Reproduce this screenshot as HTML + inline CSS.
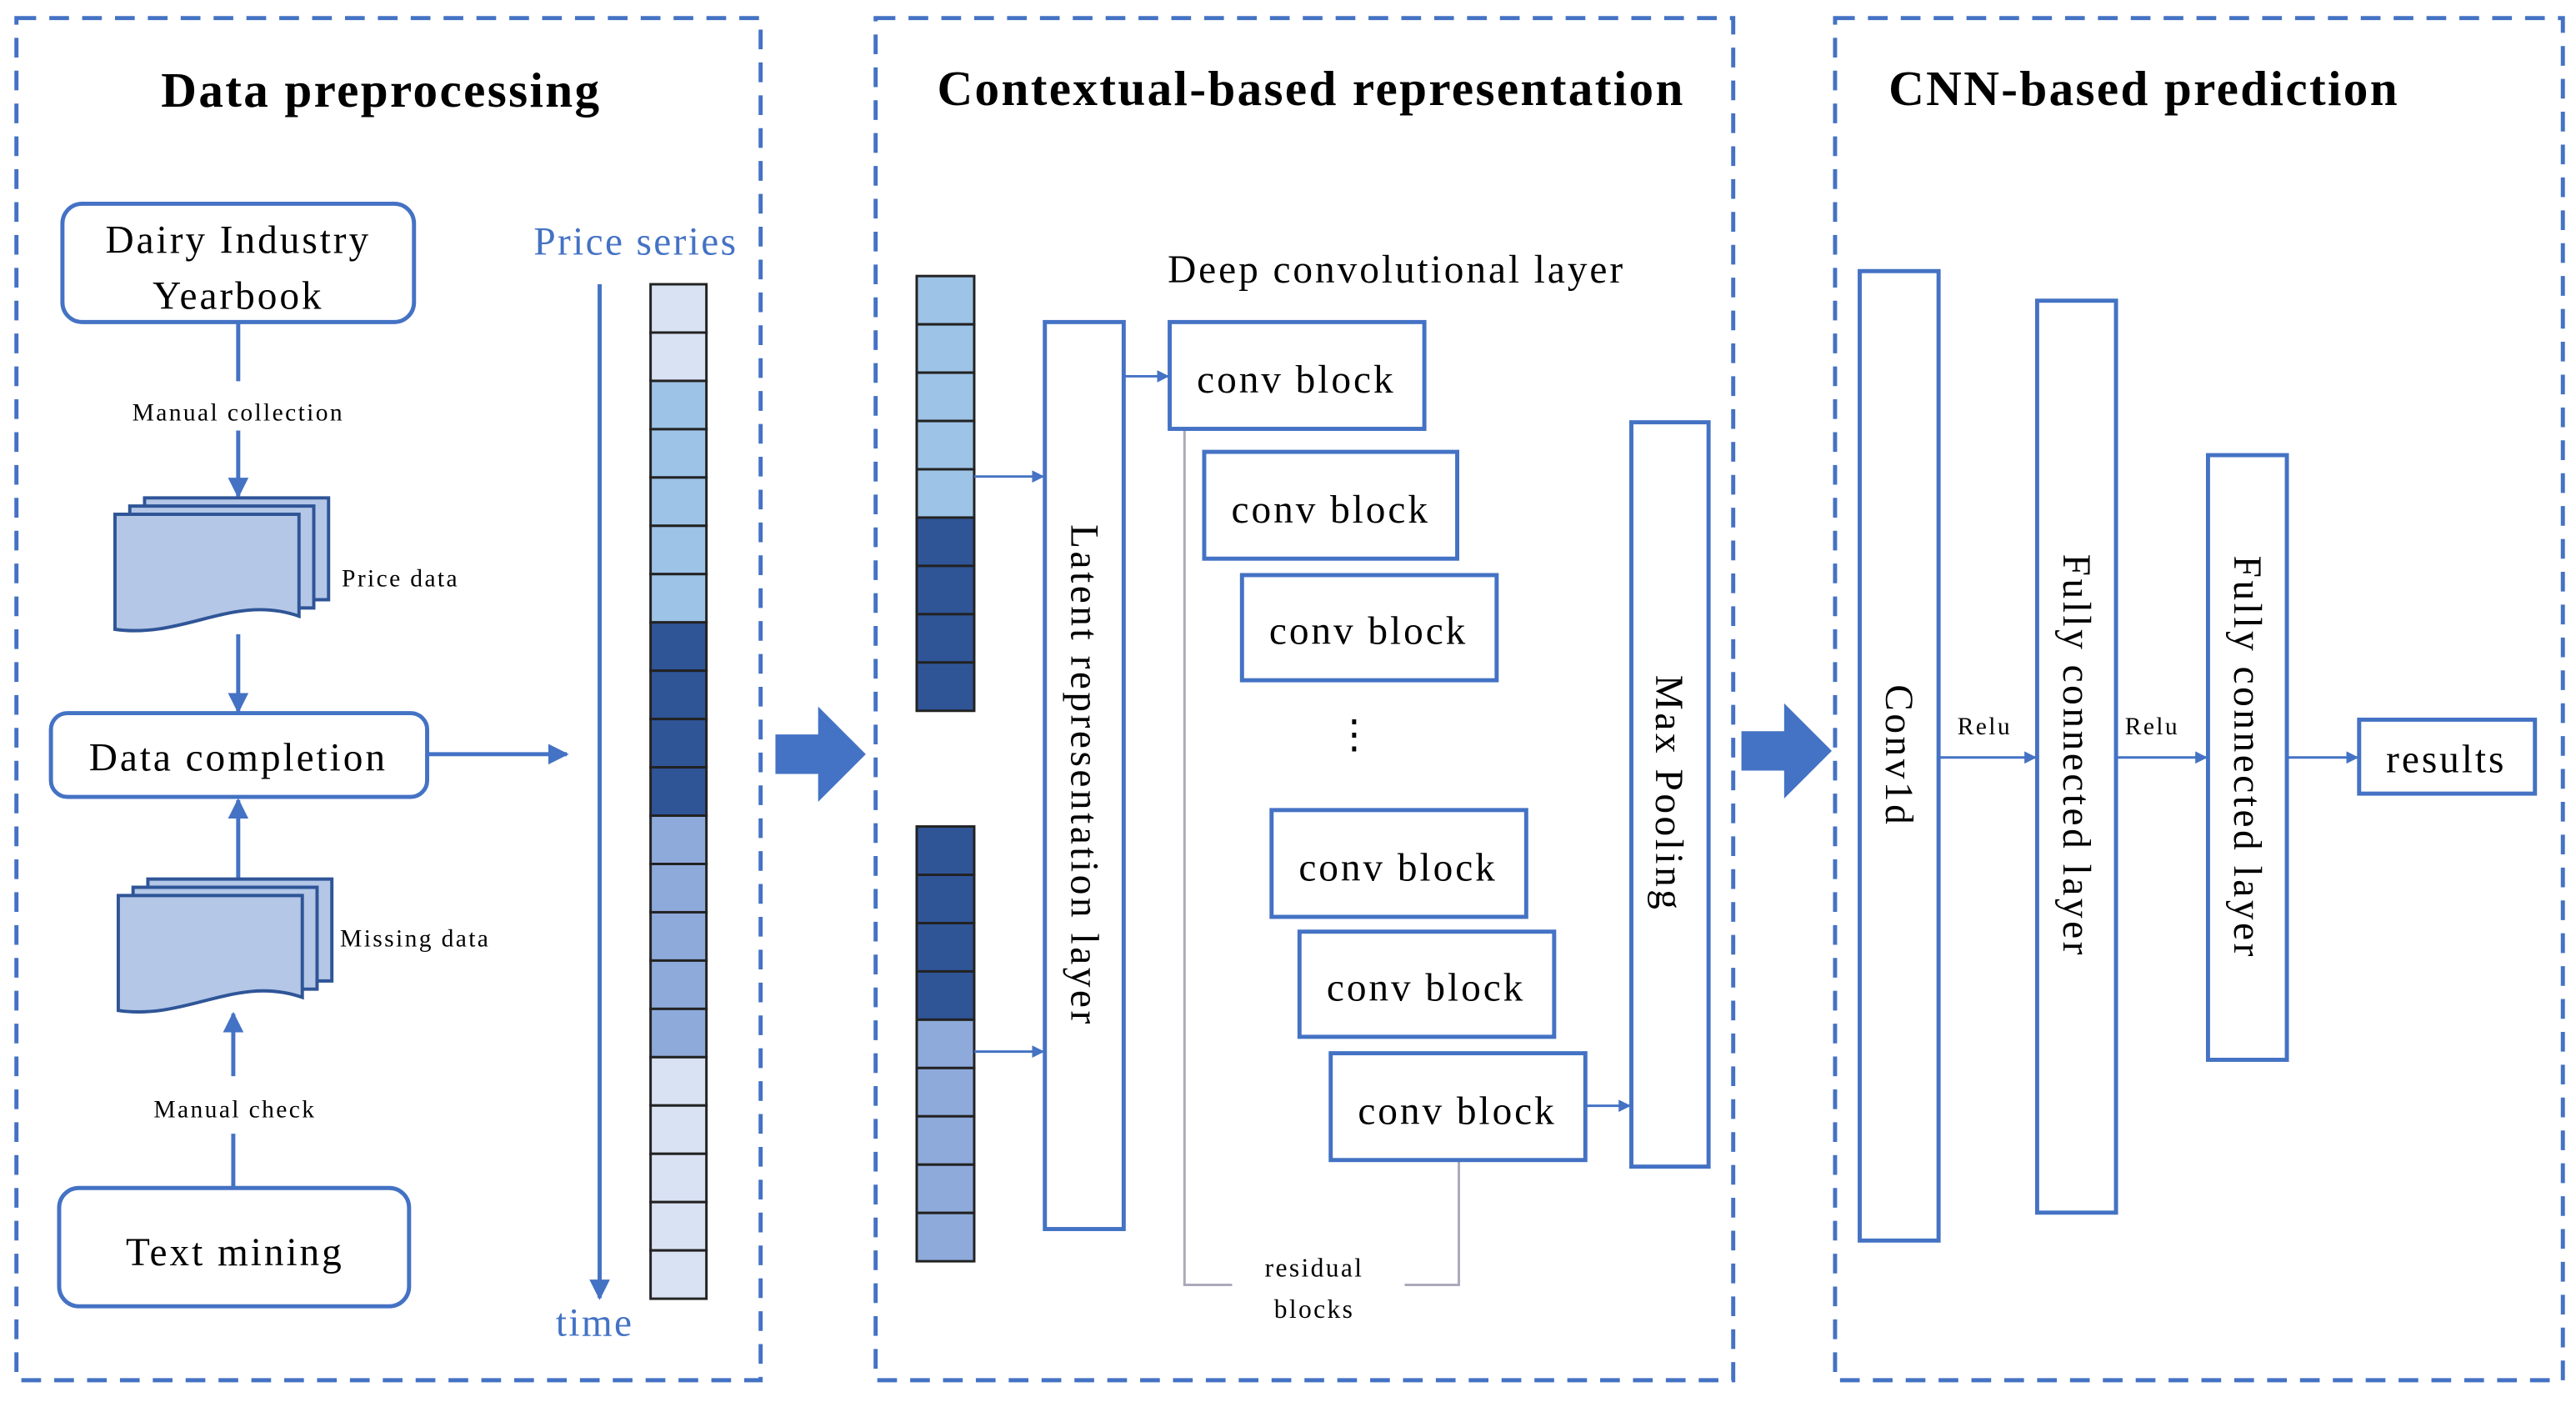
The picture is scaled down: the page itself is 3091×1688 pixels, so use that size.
<!DOCTYPE html>
<html><head><meta charset="utf-8"><style>html,body{margin:0;padding:0;background:#fff;}svg{display:block}
text{font-family:"Liberation Serif",serif}
.t{letter-spacing:1.2px}.b{letter-spacing:1.5px}.s{letter-spacing:1.2px}.v{letter-spacing:1.8px}
</style></head>
<body>
<svg width="3091" height="1688" viewBox="0 0 1568 856.3" preserveAspectRatio="none" xmlns="http://www.w3.org/2000/svg">
<defs>
<marker id="a" viewBox="0 0 10 10" refX="9" refY="5" markerWidth="5" markerHeight="5" orient="auto"><path d="M0,0L10,5L0,10z" fill="#4472c4"/></marker>
<g id="doc"><path d="M18,0h112v62h-112z" fill="#b4c7e7" stroke="#2f5597" stroke-width="2"/><path d="M9,5h112v62h-112z" fill="#b4c7e7" stroke="#2f5597" stroke-width="2"/><path d="M0,10h112v62c-40,-14 -70,14 -112,8z" fill="#b4c7e7" stroke="#2f5597" stroke-width="2"/></g>
</defs>
<g fill="none" stroke="#4472c4" stroke-width="2.5" stroke-dasharray="12 8">
<rect x="10" y="11" width="453" height="829"/><rect x="533" y="11" width="522" height="829"/><rect x="1117" y="11" width="443" height="829"/>
</g>
<g font-weight="bold" font-size="30" text-anchor="middle" class="t"><text x="232" y="65">Data preprocessing</text><text x="798" y="64">Contextual-based representation</text><text x="1305" y="64">CNN-based prediction</text></g>
<g fill="#fff" stroke="#4472c4" stroke-width="2.5">
<rect x="38" y="124" width="214" height="72" rx="12"/><rect x="31" y="434" width="229" height="51" rx="10"/><rect x="36" y="723" width="213" height="72" rx="12"/>
</g>
<g font-size="24" text-anchor="middle" class="b"><text x="145" y="154">Dairy Industry</text><text x="145" y="188">Yearbook</text><text x="145" y="469">Data completion</text><text x="143" y="770">Text mining</text></g>
<g stroke="#4472c4" stroke-width="2.5" fill="none">
<line x1="145" y1="196" x2="145" y2="232"/><line x1="145" y1="262" x2="145" y2="302" marker-end="url(#a)"/>
<line x1="145" y1="386" x2="145" y2="433" marker-end="url(#a)"/>
<line x1="260" y1="459" x2="345" y2="459" marker-end="url(#a)"/>
<line x1="145" y1="540" x2="145" y2="487" marker-end="url(#a)"/>
<line x1="142" y1="655" x2="142" y2="617" marker-end="url(#a)"/><line x1="142" y1="690" x2="142" y2="722"/>
<line x1="365" y1="173" x2="365" y2="790" marker-end="url(#a)"/>
</g>
<g font-size="15" text-anchor="middle" class="s"><text x="145" y="256">Manual collection</text><text x="143" y="680">Manual check</text></g>
<use href="#doc" x="70" y="303"/><use href="#doc" x="72" y="535"/>
<g font-size="15" class="s"><text x="208" y="357">Price data</text><text x="207" y="576">Missing data</text></g>
<g fill="#4472c4" font-size="24" text-anchor="middle" class="s"><text x="387" y="155">Price series</text><text x="362" y="813">time</text></g>
<g stroke="#222" stroke-width="1.5">
<rect x="396" y="173.0" width="34" height="29.4" fill="#d9e2f3"/><rect x="396" y="202.4" width="34" height="29.4" fill="#d9e2f3"/>
<rect x="396" y="231.8" width="34" height="29.4" fill="#9dc3e6"/><rect x="396" y="261.2" width="34" height="29.4" fill="#9dc3e6"/><rect x="396" y="290.6" width="34" height="29.4" fill="#9dc3e6"/><rect x="396" y="320.0" width="34" height="29.4" fill="#9dc3e6"/><rect x="396" y="349.4" width="34" height="29.4" fill="#9dc3e6"/>
<rect x="396" y="378.8" width="34" height="29.4" fill="#2f5597"/><rect x="396" y="408.2" width="34" height="29.4" fill="#2f5597"/><rect x="396" y="437.6" width="34" height="29.4" fill="#2f5597"/><rect x="396" y="467.0" width="34" height="29.4" fill="#2f5597"/>
<rect x="396" y="496.4" width="34" height="29.4" fill="#8eaadb"/><rect x="396" y="525.8" width="34" height="29.4" fill="#8eaadb"/><rect x="396" y="555.2" width="34" height="29.4" fill="#8eaadb"/><rect x="396" y="584.6" width="34" height="29.4" fill="#8eaadb"/><rect x="396" y="614.0" width="34" height="29.4" fill="#8eaadb"/>
<rect x="396" y="643.4" width="34" height="29.4" fill="#d9e2f3"/><rect x="396" y="672.8" width="34" height="29.4" fill="#d9e2f3"/><rect x="396" y="702.2" width="34" height="29.4" fill="#d9e2f3"/><rect x="396" y="731.6" width="34" height="29.4" fill="#d9e2f3"/><rect x="396" y="761.0" width="34" height="29.4" fill="#d9e2f3"/>
<rect x="558" y="168.0" width="35" height="29.4" fill="#9dc3e6"/><rect x="558" y="197.4" width="35" height="29.4" fill="#9dc3e6"/><rect x="558" y="226.8" width="35" height="29.4" fill="#9dc3e6"/><rect x="558" y="256.2" width="35" height="29.4" fill="#9dc3e6"/><rect x="558" y="285.6" width="35" height="29.4" fill="#9dc3e6"/>
<rect x="558" y="315.0" width="35" height="29.4" fill="#2f5597"/><rect x="558" y="344.4" width="35" height="29.4" fill="#2f5597"/><rect x="558" y="373.8" width="35" height="29.4" fill="#2f5597"/><rect x="558" y="403.2" width="35" height="29.4" fill="#2f5597"/>
<rect x="558" y="503.0" width="35" height="29.4" fill="#2f5597"/><rect x="558" y="532.4" width="35" height="29.4" fill="#2f5597"/><rect x="558" y="561.8" width="35" height="29.4" fill="#2f5597"/><rect x="558" y="591.2" width="35" height="29.4" fill="#2f5597"/>
<rect x="558" y="620.6" width="35" height="29.4" fill="#8eaadb"/><rect x="558" y="650.0" width="35" height="29.4" fill="#8eaadb"/><rect x="558" y="679.4" width="35" height="29.4" fill="#8eaadb"/><rect x="558" y="708.8" width="35" height="29.4" fill="#8eaadb"/><rect x="558" y="738.2" width="35" height="29.4" fill="#8eaadb"/>
</g>
<g fill="#4472c4"><path d="M472,447h26v-17l29,29l-29,29v-17h-26z"/><path d="M1060,445h26v-17l29,29l-29,29v-17h-26z"/></g>
<g fill="none" stroke="#aab" stroke-width="1.5"><path d="M721,261V782H750"/><path d="M888,706V782H855"/></g>
<g fill="#fff" stroke="#4472c4" stroke-width="2.5">
<rect x="636" y="196" width="48" height="552"/>
<rect x="712" y="196" width="155" height="65"/><rect x="733" y="275" width="154" height="65"/><rect x="756" y="350" width="155" height="64"/>
<rect x="774" y="493" width="155" height="65"/><rect x="791" y="567" width="155" height="64"/><rect x="810" y="641" width="155" height="65"/>
<rect x="993" y="257" width="47" height="453"/>
<rect x="1132" y="165" width="48" height="590"/><rect x="1240" y="183" width="48" height="555"/><rect x="1344" y="277" width="48" height="368"/>
<rect x="1436" y="438" width="107" height="45"/>
</g>
<g stroke="#4472c4" stroke-width="1.5" fill="none">
<line x1="593" y1="290" x2="635" y2="290" marker-end="url(#a)"/><line x1="593" y1="640" x2="635" y2="640" marker-end="url(#a)"/>
<line x1="684" y1="229" x2="711" y2="229" marker-end="url(#a)"/><line x1="965" y1="673" x2="992" y2="673" marker-end="url(#a)"/>
<line x1="1180" y1="461" x2="1239" y2="461" marker-end="url(#a)"/><line x1="1288" y1="461" x2="1343" y2="461" marker-end="url(#a)"/><line x1="1392" y1="461" x2="1435" y2="461" marker-end="url(#a)"/>
</g>
<g font-size="24" text-anchor="middle" class="b">
<text x="850" y="172">Deep convolutional layer</text>
<text x="789" y="239">conv block</text><text x="810" y="318">conv block</text><text x="833" y="392">conv block</text>
<text x="851" y="536">conv block</text><text x="868" y="609">conv block</text><text x="887" y="684">conv block</text>
<text x="825" y="455">⋮</text>
<text x="1489" y="470">results</text>
</g>
<g font-size="24" text-anchor="middle" class="v">
<text transform="translate(652,472) rotate(90)">Latent representation layer</text>
<text transform="translate(1008,483) rotate(90)">Max Pooling</text>
<text transform="translate(1148,460) rotate(90)">Conv1d</text>
<text transform="translate(1256,460) rotate(90)">Fully connected layer</text>
<text transform="translate(1360,461) rotate(90)">Fully connected layer</text>
</g>
<g font-size="16" text-anchor="middle" class="s"><text x="800" y="777">residual</text><text x="800" y="802">blocks</text></g>
<g font-size="15" text-anchor="middle" class="s"><text x="1208" y="447">Relu</text><text x="1310" y="447">Relu</text></g>
</svg>
</body></html>
